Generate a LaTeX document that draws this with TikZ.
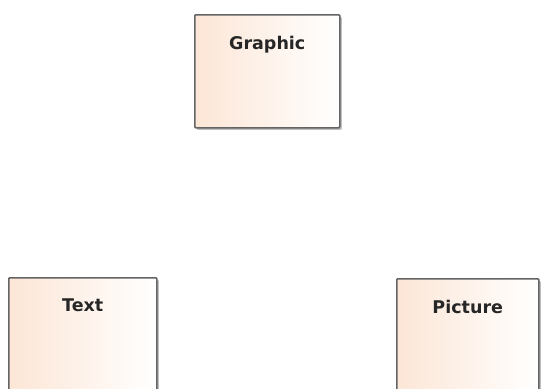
\documentclass[tikz,border=0pt]{standalone}
\usepackage{fontspec}
\setmainfont{DejaVu Sans}
\usetikzlibrary{shadows}
\definecolor{peach}{RGB}{252,230,214}
\definecolor{edge}{RGB}{100,100,100}
\tikzset{
  classbox/.style={draw=edge, line width=1.5pt, left color=peach, right color=white,
    rectangle, rounded corners=1pt, inner sep=0pt, anchor=north west,
    drop shadow={shadow xshift=2pt, shadow yshift=-2pt, fill=black, opacity=0.25}},
  boxlabel/.style={anchor=north, inner sep=0pt, font=\bfseries\fontsize{17.5}{19}\selectfont, text=black!85}
}
\begin{document}
\begin{tikzpicture}[x=1pt,y=-1pt]
\useasboundingbox (0,0) rectangle (542,389);
\node[classbox, minimum width=145pt, minimum height=113pt] (graphic) at (194,14) {};
\node[boxlabel] (graphiclbl) at ([yshift=-22pt]graphic.north) {Graphic};
\node[classbox, minimum width=148pt, minimum height=140pt] (text) at (8,277) {};
\node[boxlabel] (textlbl) at ([yshift=-22pt]text.north) {Text};
\node[classbox, minimum width=142pt, minimum height=140pt] (picture) at (396,278) {};
\node[boxlabel] (picturelbl) at ([yshift=-22pt]picture.north) {Picture};
\end{tikzpicture}
\end{document}
